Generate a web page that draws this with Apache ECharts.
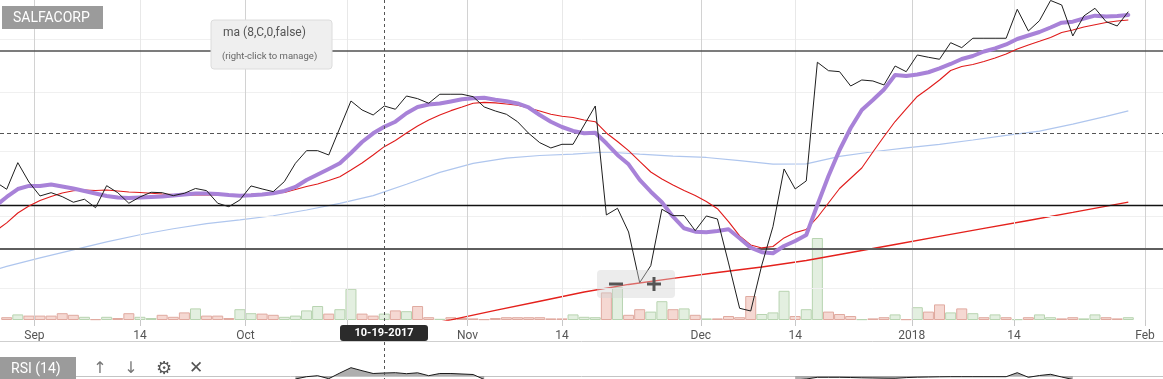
<!DOCTYPE html>
<html><head><meta charset="utf-8">
<script src="https://cdn.jsdelivr.net/npm/echarts@6/dist/echarts.min.js"></script>
<style>html,body{margin:0;padding:0;background:#fff}#c{width:1163px;height:379px}</style>
</head><body><div id="c"></div>
<script>
// ---------- data (one entry per trading day) ----------
const dates = ['2017-08-28','2017-08-29','2017-08-30','2017-08-31','2017-09-01','2017-09-04','2017-09-05','2017-09-06','2017-09-07','2017-09-08','2017-09-11','2017-09-12','2017-09-13','2017-09-14','2017-09-15','2017-09-20','2017-09-21','2017-09-22','2017-09-25','2017-09-26','2017-09-27','2017-09-28','2017-09-29','2017-10-02','2017-10-03','2017-10-04','2017-10-05','2017-10-06','2017-10-10','2017-10-11','2017-10-12','2017-10-13','2017-10-16','2017-10-17','2017-10-18','2017-10-19','2017-10-20','2017-10-23','2017-10-24','2017-10-25','2017-10-26','2017-10-30','2017-10-31','2017-11-02','2017-11-03','2017-11-06','2017-11-07','2017-11-08','2017-11-09','2017-11-10','2017-11-13','2017-11-14','2017-11-15','2017-11-16','2017-11-17','2017-11-20','2017-11-21','2017-11-22','2017-11-23','2017-11-24','2017-11-27','2017-11-28','2017-11-29','2017-11-30','2017-12-01','2017-12-04','2017-12-05','2017-12-06','2017-12-07','2017-12-11','2017-12-12','2017-12-13','2017-12-14','2017-12-15','2017-12-18','2017-12-19','2017-12-20','2017-12-21','2017-12-22','2017-12-26','2017-12-27','2017-12-28','2017-12-29','2018-01-02','2018-01-03','2018-01-04','2018-01-05','2018-01-08','2018-01-09','2018-01-10','2018-01-11','2018-01-12','2018-01-15','2018-01-17','2018-01-18','2018-01-19','2018-01-22','2018-01-23','2018-01-24','2018-01-25','2018-01-26','2018-01-29','2018-01-30'];

const closePrice = [951.4,940.2,981.7,951.4,930.0,935.0,929.0,920.6,925.1,912.5,
945.7,935.0,919.1,928.5,935.6,935.0,930.5,934.1,941.4,938.1,
919.1,914.0,924.0,945.3,940.7,936.6,951.9,980.7,1001.0,1001.0,
994.0,1038.6,1085.1,1069.4,1060.7,1076.3,1070.6,1093.9,1089.2,1081.1,
1097.0,1097.0,1097.0,1092.7,1074.6,1067.6,1061.9,1049.2,1029.7,1014.1,
1005.4,1011.4,1011.4,1043.6,1076.3,901.8,911.6,877.2,807.9,830.5,
910.2,900.8,900.8,879.1,900.3,895.9,834.2,775.0,771.6,831.5,
884.8,971.7,940.7,953.0,1155.5,1139.8,1138.0,1111.8,1122.7,1120.9,
1113.7,1148.5,1138.0,1169.2,1164.9,1161.1,1192.8,1183.2,1201.4,1201.4,
1201.4,1201.4,1259.3,1215.7,1236.2,1277.4,1268.1,1205.9,1245.7,1261.3,
1234.2,1225.6,1254.4];

const ma8 = [915.0,928.5,940.6,945.3,945.3,947.6,944.5,941.4,937.6,933.8,
930.0,927.7,927.0,927.7,928.5,929.2,930.8,932.3,933.8,933.8,
933.0,931.5,930.5,931.0,932.3,934.1,937.6,943.7,954.5,963.1,
971.7,980.7,997.2,1015.2,1029.6,1040.7,1049.2,1063.7,1074.6,1079.0,
1080.7,1084.3,1088.1,1090.1,1090.8,1087.2,1084.6,1080.7,1073.7,1060.7,
1049.2,1040.2,1033.5,1029.6,1030.6,1013.1,994.0,979.1,954.5,936.5,
920.5,899.3,882.5,877.7,876.9,878.7,881.1,868.4,855.2,848.8,
847.4,857.5,864.5,873.0,916.5,960.7,1002.1,1038.5,1069.4,1086.9,
1105.6,1131.9,1130.1,1132.8,1136.9,1143.9,1152.3,1161.7,1167.3,1175.9,
1181.7,1189.4,1200.0,1206.8,1213.7,1222.6,1232.2,1234.2,1240.6,1246.3,
1244.7,1245.7,1247.7];

const maRed = [878.7,890.2,904.7,915.0,923.2,929.2,934.6,938.0,939.1,938.3,
939.1,937.6,936.0,935.3,934.1,933.0,932.0,931.5,931.5,931.5,
931.5,931.5,932.0,932.6,933.3,934.1,935.3,939.9,944.5,948.3,
953.7,959.6,970.1,981.2,994.0,1007.5,1017.7,1030.2,1041.9,1052.1,
1060.7,1068.2,1074.6,1081.2,1082.6,1081.7,1079.9,1077.8,1072.9,1067.7,
1061.9,1058.5,1056.4,1052.1,1049.2,1030.2,1016.0,1001.0,983.6,966.9,
956.0,946.8,938.3,930.8,921.8,911.0,892.1,871.6,858.9,854.8,
856.8,868.8,876.3,880.8,898.1,919.5,941.4,957.2,973.2,998.8,
1024.3,1049.5,1071.1,1093.1,1107.4,1122.7,1140.2,1147.6,1151.3,1157.0,
1163.5,1171.1,1180.7,1188.4,1195.5,1202.9,1212.7,1217.7,1223.6,1228.2,
1232.6,1235.6,1237.6];

// [day index, value] read where the slow averages were sampled
const maBlue = [[0,825.4],[1,829.5],[4,841.2],[7,852.0],[10,863.2],[13,873.3],[16,881.8],[19,889.3],[22,894.5],[25,900.6],[28,909.1],[31,918.9],[34,930.6],[37,947.9],[40,966.3],[43,980.6],[46,988.9],[49,993.2],[52,995.5],[55,998.8],[58,995.3],[61,992.2],[64,990.0],[67,984.9],[70,979.4],[73,979.7],[76,991.7],[79,999.2],[82,1005.6],[85,1011.3],[88,1018.5],[91,1026.2],[94,1033.2],[97,1045.1],[100,1058.3],[102,1067.7]];
const maLong = [[37,749.4],[41,760.6],[45,772.3],[49,783.9],[53,795.8],[57,805.6],[61,813.5],[65,821.4],[69,828.8],[73,837.5],[77,848.5],[81,859.6],[85,870.9],[89,882.3],[93,893.8],[97,905.5],[102,920.7]];

const volume = [null,7,14,11,11,11,17,13,8,2,
8,5,17,8,5,13,8,19,29,11,
11,5,27,17,16,13,8,11,24,35,
16,27,78,16,11,16,24,22,35,7,
3,7,5,4,2,5,7,7,7,7,
4,4,14,8,7,69,82,13,27,21,
47,27,29,13,4,4,10,7,60,15,
19,73,10,27,205,21,15,10,2,4,
7,14,2,32,21,39,19,29,17,7,
14,7,2,7,14,7,4,7,4,14,
7,4,7];
const volDir = 'ddudddddud'+'udduudddud'+'dduudduuuu'+'duuddududd'+'uddddddddd'+'dduuududdu'+'udududdddu'+'uuduudddud'+'dududdudud'+'ududuudduu'+'ddu';

const rsi = [null,null,null,null,null,null,null,null,null,null,
null,null,null,null,null,null,null,null,null,null,
null,null,null,null,null,null,null,67,69.3,70.3,
67.3,73,78.3,75.3,72.5,73,73.3,72.3,73.2,70.3,
72.5,72.5,72,71.5,66.5,null,null,null,null,null,
null,null,null,null,null,null,null,null,null,null,
null,null,null,null,null,null,null,null,null,null,
null,null,66,67,68.7,68.7,68.7,68.5,68.2,68,
67.8,67.7,68.4,68.8,69,69.2,69.3,69.3,69.3,69.3,
69.3,69.3,73.3,68.7,70.5,71.7,69,66.5,null,null,
null,null,null];

const tickAt = [3.5,13,22.5,31.7,42.5,51,63.5,72,82.5,91.7,103.5];
const tickLabels = ['Sep','14','Oct','','Nov','14','Dec','14','2018','14','Feb'];
const tickMajor = [true,false,true,false,true,false,true,false,true,false,true];
const gridPrices = [800,900,1000,1100,1200];
const levelLines = [1177,915.5,853.8];
const dashedLevel = 1030;
const crossIdx = 35;
const title = 'SALFACORP';

// ---------- chart ----------
const chart = echarts.init(document.getElementById('c'), null, {renderer:'canvas'});
const idx = arr => arr.map((v,j)=>[j,v]);
const levelStyles = [
  {color:'#505050', width:1.6},
  {color:'#111', width:1.4},
  {color:'#5e5e5e', width:2.2}
];

const option = {
  animation:false,
  grid:[{left:0,right:0,top:0,height:320},{left:0,right:0,top:355,height:24}],
  xAxis:[
    {type:'value', gridIndex:0, min:0.3967, max:105.124,
     axisLine:{show:false}, splitLine:{show:false},
     axisTick:{show:true, customValues:tickAt, length:6, lineStyle:{color:'#c8c8c8'}},
     axisLabel:{customValues:tickAt, formatter:v=>{const k=tickAt.indexOf(v);return k<0?'':tickLabels[k];},
       color:'#555', fontSize:12, fontFamily:'Roboto', margin:10}},
    {type:'value', gridIndex:1, min:0.3967, max:105.124, show:false}
  ],
  yAxis:[
    {type:'log', gridIndex:0, min:760.4, max:1278.4, show:false},
    {type:'value', gridIndex:0, min:0, max:800, show:false},
    {type:'value', gridIndex:1, min:67, max:91, show:false}
  ],
  series:[
    {type:'line', xAxisIndex:0, yAxisIndex:0, data:[], z:1, silent:true,
     markLine:{silent:true, symbol:['none','none'], label:{show:false}, animation:false,
       data:[
         ...gridPrices.map(v=>({yAxis:v, lineStyle:{color:'#f0f0f0', width:1, type:'solid'}})),
         ...tickAt.map((v,k)=>({xAxis:v, lineStyle:{color:tickMajor[k]?'#d2d2d2':'#e8e8e8', width:1, type:'solid'}}))
       ]}},
    {type:'bar', xAxisIndex:0, yAxisIndex:1, barWidth:11, z:2, silent:true,
     data: volume.map((v,j)=>({value:[j,v], itemStyle: volDir[j]==='u'
        ? {color:'#e3efe0', borderColor:'#b8d4b1', borderWidth:1}
        : {color:'#f5d8d2', borderColor:'#e0aaa0', borderWidth:1}}))},
    {type:'line', xAxisIndex:0, yAxisIndex:0, data:[], z:3, silent:true,
     markLine:{silent:true, symbol:['none','none'], label:{show:false}, animation:false,
       data:[
         ...levelLines.map((v,k)=>({yAxis:v, lineStyle:Object.assign({type:'solid'}, levelStyles[k])})),
         {yAxis:dashedLevel, lineStyle:{color:'#555', width:1, type:[4,3]}}
       ]}},
    {name:'ma long', type:'line', xAxisIndex:0, yAxisIndex:0, data:maLong, showSymbol:false, symbol:'none', z:4,
     lineStyle:{color:'#e4211c', width:1.4}},
    {name:'ma blue', type:'line', xAxisIndex:0, yAxisIndex:0, data:maBlue, showSymbol:false, symbol:'none', z:4,
     lineStyle:{color:'#afc6ee', width:1.2}},
    {name:'ma red', type:'line', xAxisIndex:0, yAxisIndex:0, data:idx(maRed), showSymbol:false, symbol:'none', z:5,
     lineStyle:{color:'#e01b1b', width:1.1}},
    {name:'ma 8', type:'line', xAxisIndex:0, yAxisIndex:0, data:idx(ma8), showSymbol:false, symbol:'none', z:6,
     lineStyle:{color:'#a882d8', width:4, cap:'round', join:'round'}},
    {name:'close', type:'line', xAxisIndex:0, yAxisIndex:0, data:idx(closePrice), showSymbol:false, symbol:'none', z:7,
     lineStyle:{color:'#1e1e1e', width:1}},
    {name:'RSI', type:'line', xAxisIndex:1, yAxisIndex:2, data:idx(rsi), showSymbol:false, symbol:'none', z:5,
     connectNulls:false, lineStyle:{color:'#1a1a1a', width:1},
     areaStyle:{color:'#a0a0a0', opacity:0.85, origin:70},
     markLine:{silent:true, symbol:['none','none'], label:{show:false}, animation:false,
       data:[{yAxis:70, lineStyle:{color:'#c4c4c4', width:1, type:'solid'}}]}}
  ]
};
chart.setOption(option);

const cx = chart.convertToPixel({xAxisIndex:0}, crossIdx);
const dp = dates[crossIdx].split('-');
const crossText = dp[1]+'-'+dp[2]+'-'+dp[0];
const F = 'Roboto, "Liberation Sans", sans-serif';
chart.setOption({graphic:{elements:[
  {type:'line', z:50, silent:true, shape:{x1:0,y1:341.5,x2:1163,y2:341.5}, style:{stroke:'#cfcfcf', lineWidth:1}},
  {type:'line', z:60, silent:true, shape:{x1:Math.round(cx)+0.5,y1:0,x2:Math.round(cx)+0.5,y2:379}, style:{stroke:'#555', lineWidth:1, lineDash:[3,3]}},
  {type:'rect', z:70, silent:true, shape:{x:Math.round(cx)-44,y:325,width:88,height:16,r:3}, style:{fill:'#2b2b2b'}},
  {type:'text', z:71, silent:true, x:Math.round(cx), y:333.5, style:{text:crossText, fill:'#fff', font:'bold 11px '+F, align:'center', verticalAlign:'middle'}},
  {type:'rect', z:70, silent:true, shape:{x:2,y:6,width:101,height:23}, style:{fill:'#9b9b9b'}},
  {type:'text', z:71, silent:true, x:13, y:18, style:{text:title, fill:'#fff', font:'14px '+F, verticalAlign:'middle'}},
  {type:'rect', z:70, silent:true, shape:{x:211,y:20,width:121,height:49,r:3}, style:{fill:'#efefef', stroke:'#dcdcdc', lineWidth:1}},
  {type:'text', z:71, silent:true, x:223, y:33, style:{text:'ma (8,C,0,false)', fill:'#555', font:'12px '+F, verticalAlign:'middle'}},
  {type:'text', z:71, silent:true, x:222, y:57, style:{text:'(right-click to manage)', fill:'#666', font:'9.5px '+F, verticalAlign:'middle'}},
  {type:'rect', z:70, silent:true, shape:{x:597,y:270,width:78,height:28,r:4}, style:{fill:'rgba(210,210,210,0.42)'}},
  {type:'rect', z:71, silent:true, shape:{x:609,y:282.5,width:14,height:3}, style:{fill:'#555'}},
  {type:'rect', z:71, silent:true, shape:{x:647,y:282.5,width:14,height:3}, style:{fill:'#555'}},
  {type:'rect', z:71, silent:true, shape:{x:652.5,y:277,width:3,height:14}, style:{fill:'#555'}},
  {type:'rect', z:70, silent:true, shape:{x:0,y:357,width:76,height:22}, style:{fill:'#9b9b9b'}},
  {type:'text', z:71, silent:true, x:11, y:369, style:{text:'RSI (14)', fill:'#fff', font:'14px '+F, verticalAlign:'middle'}},
  {type:'text', z:71, silent:true, x:100, y:369, style:{text:'↑', fill:'#777', font:'16px "DejaVu Sans"', align:'center', verticalAlign:'middle'}},
  {type:'text', z:71, silent:true, x:131, y:369, style:{text:'↓', fill:'#777', font:'16px "DejaVu Sans"', align:'center', verticalAlign:'middle'}},
  {type:'text', z:71, silent:true, x:164, y:369, style:{text:'⚙', fill:'#555', font:'18px "DejaVu Sans"', align:'center', verticalAlign:'middle'}},
  {type:'text', z:71, silent:true, x:196, y:369, style:{text:'✕', fill:'#555', font:'bold 17px "DejaVu Sans"', align:'center', verticalAlign:'middle'}}
]}});
</script>
</body></html>
